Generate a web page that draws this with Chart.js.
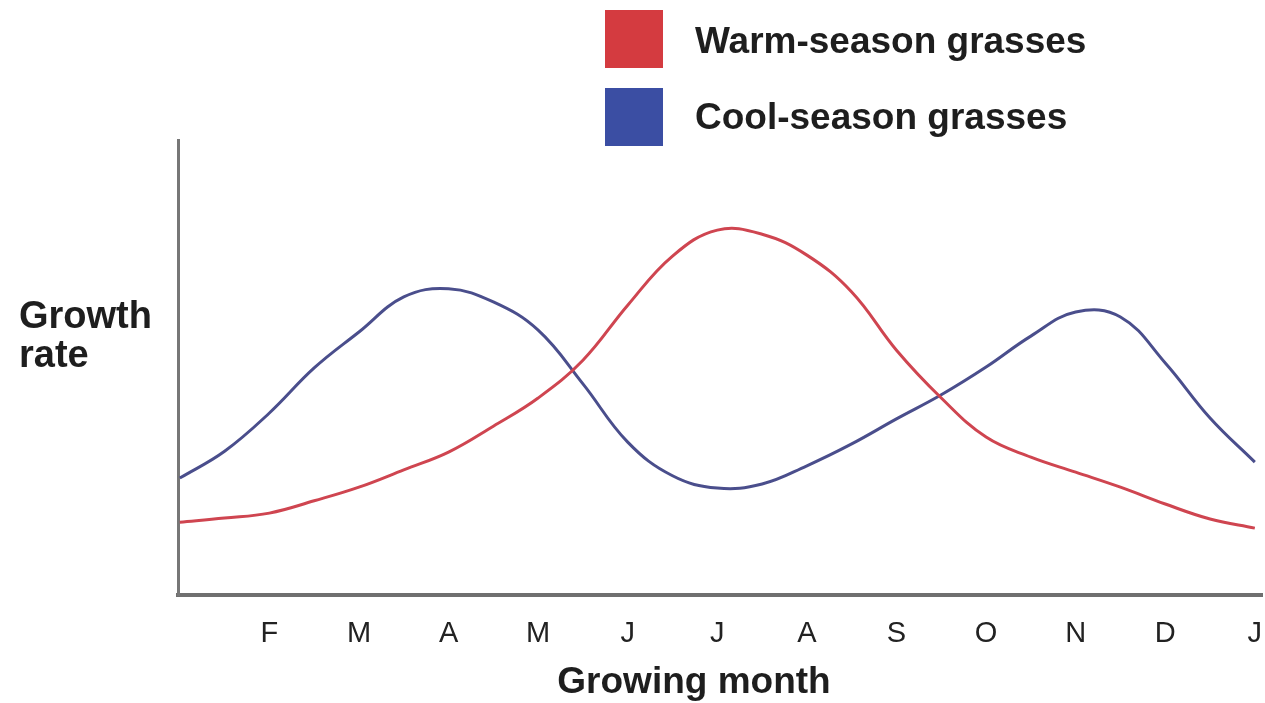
<!DOCTYPE html>
<html>
<head>
<meta charset="utf-8">
<script src="https://cdn.jsdelivr.net/npm/chart.js@4"></script>
<style>
  html, body { margin: 0; padding: 0; background: #ffffff; }
  #wrap { width: 1265px; height: 703px; position: relative; }
</style>
</head>
<body>
<div id="wrap"><canvas id="c" width="1265" height="703"></canvas></div>
<script>
// Month positions (0 = January, 12 = next January), sampled every half month
const monthPositions = [0, 0.5, 1, 1.5, 2, 2.5, 3, 3.5, 4, 4.5, 5, 5.5, 6, 6.5, 7, 7.5, 8, 8.5, 9, 9.5, 10, 10.5, 11, 11.5, 12];
// Tick labels at month 1..12
const tickMonths = [1, 2, 3, 4, 5, 6, 7, 8, 9, 10, 11, 12];
const tickLabels = ['F', 'M', 'A', 'M', 'J', 'J', 'A', 'S', 'O', 'N', 'D', 'J'];
// Relative growth rate (arbitrary units 0-100)
const warmSeason = [16.0, 16.9, 18.0, 20.7, 23.7, 27.5, 31.4, 37.1, 43.3, 51.6, 63.7, 74.5, 80.2, 79.3, 74.7, 66.6, 53.8, 43.3, 34.7, 30.3, 27.0, 23.7, 20.0, 16.7, 14.7];
const coolSeason = [25.7, 31.6, 40.0, 49.9, 57.8, 65.5, 67.3, 64.4, 58.2, 46.4, 33.6, 26.2, 23.5, 24.4, 28.4, 33.2, 38.7, 44.0, 50.1, 56.9, 62.2, 61.1, 51.0, 38.9, 29.2];
const seriesNames = ['Warm-season grasses', 'Cool-season grasses'];
const yAxisTitle = ['Growth', 'rate'];
const xAxisTitle = 'Growing month';

const toPoints = (vals) => vals.map((v, i) => ({ x: monthPositions[i], y: v }));

const lineColors = ['#cf4550', '#4a4e8c'];
const swatchColors = ['#d43b40', '#3b4ea3'];

const annotations = {
  id: 'annotations',
  afterDraw(chart) {
    const ctx = chart.ctx;
    ctx.save();
    ctx.fillStyle = '#1e1e1e';
    ctx.textBaseline = 'alphabetic';
    // Legend
    const legendBaselines = [53, 129];
    const swatchTops = [10, 88];
    chart.data.datasets.forEach((ds, i) => {
      ctx.fillStyle = swatchColors[i];
      ctx.fillRect(605, swatchTops[i], 58, 58);
      ctx.fillStyle = '#1e1e1e';
      ctx.font = 'bold 37px "Liberation Sans", Arial, sans-serif';
      ctx.textAlign = 'left';
      ctx.fillText(ds.label, 695, legendBaselines[i]);
    });
    // Y axis title (horizontal, two lines)
    ctx.font = 'bold 38px "Liberation Sans", Arial, sans-serif';
    ctx.textAlign = 'left';
    ctx.fillText(yAxisTitle[0], 19, 328);
    ctx.fillText(yAxisTitle[1], 19, 367);
    // X axis title
    ctx.font = 'bold 37px "Liberation Sans", Arial, sans-serif';
    ctx.textAlign = 'center';
    ctx.fillText(xAxisTitle, 694, 693);
    ctx.restore();
  }
};

new Chart(document.getElementById('c'), {
  type: 'line',
  data: {
    datasets: [
      {
        label: seriesNames[0],
        data: toPoints(warmSeason),
        borderColor: lineColors[0],
        borderWidth: 3,
        pointRadius: 0,
        tension: 0.4,
        fill: false
      },
      {
        label: seriesNames[1],
        data: toPoints(coolSeason),
        borderColor: lineColors[1],
        borderWidth: 3,
        pointRadius: 0,
        tension: 0.4,
        fill: false
      }
    ]
  },
  options: {
    responsive: false,
    animation: false,
    devicePixelRatio: 1,
    layout: { padding: { left: 178, top: 140, right: 3, bottom: 0 } },
    plugins: {
      legend: { display: false },
      tooltip: { enabled: false }
    },
    scales: {
      x: {
        type: 'linear',
        min: -0.02,
        max: 12.08,
        afterFit: (s) => { s.height = 108; s.paddingLeft = 0; s.paddingRight = 0; },
        afterBuildTicks: (s) => { s.ticks = tickMonths.map(v => ({ value: v })); },
        grid: { display: false, drawTicks: false },
        border: { display: true, color: '#6f6f6f', width: 4 },
        ticks: {
          padding: 22,
          color: '#222222',
          font: { family: '"Liberation Sans", Arial, sans-serif', size: 29 },
          callback: (v) => tickLabels[tickMonths.indexOf(v)],
          autoSkip: false,
          maxRotation: 0
        }
      },
      y: {
        min: 0,
        max: 100,
        afterFit: (s) => { s.width = 0; s.paddingTop = 0; s.paddingBottom = 0; },
        grid: { display: false, drawTicks: false },
        border: { display: true, color: '#777777', width: 3 },
        ticks: { display: false }
      }
    }
  },
  plugins: [annotations]
});
</script>
</body>
</html>
